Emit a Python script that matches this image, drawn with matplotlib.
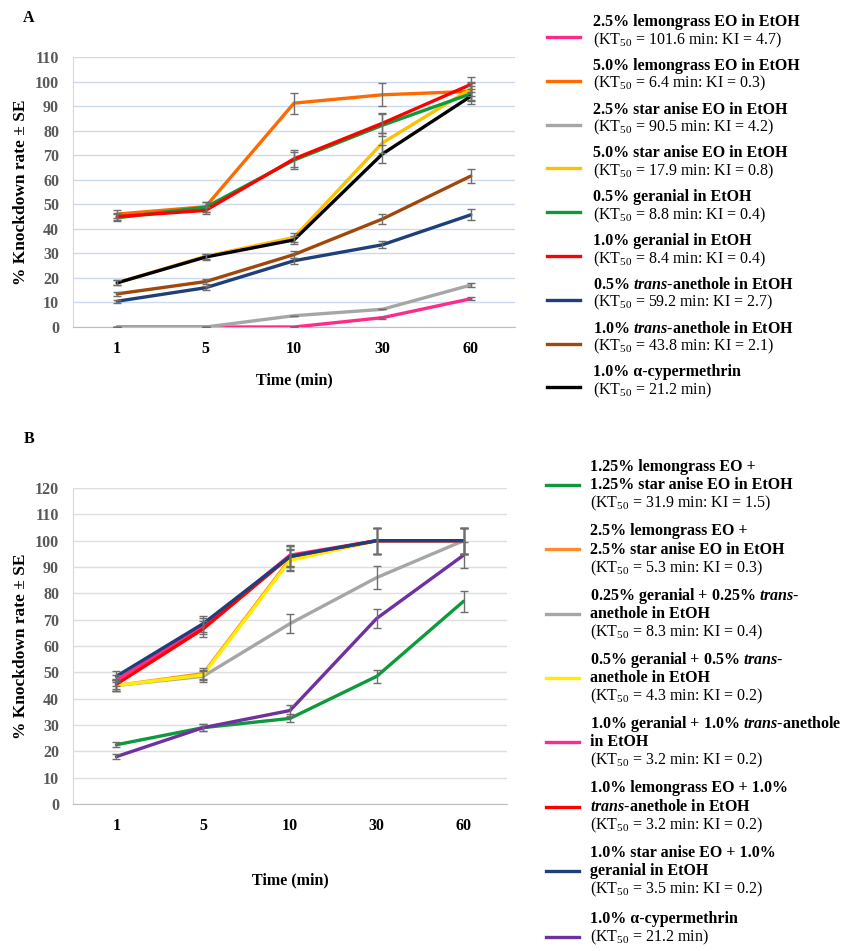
import matplotlib
matplotlib.use("Agg")
import matplotlib.pyplot as plt
from matplotlib.lines import Line2D

plt.rcParams["font.family"] = ["Liberation Serif", "DejaVu Serif"]
plt.rcParams["mathtext.fontset"] = "custom"
plt.rcParams["mathtext.rm"] = "Liberation Serif"
plt.rcParams["mathtext.it"] = "Liberation Serif:italic"
plt.rcParams["mathtext.bf"] = "Liberation Serif:bold"
plt.rcParams["mathtext.bfit"] = "Liberation Serif:italic:bold"

# ---- data ----
times = ["1", "5", "10", "30", "60"]

# panel A: single treatments
a_labels = [
    ["2.5% lemongrass EO in EtOH"],
    ["5.0% lemongrass EO in EtOH"],
    ["2.5% star anise EO in EtOH"],
    ["5.0% star anise EO in EtOH"],
    ["0.5% geranial in EtOH"],
    ["1.0% geranial in EtOH"],
    [r"0.5% $\mathbfit{trans}$-anethole in EtOH"],
    [r"1.0% $\mathbfit{trans}$-anethole in EtOH"],
    ["1.0% α-cypermethrin"],
]
a_kt = [
    r"(KT$_{50}$ = 101.6 min: KI = 4.7)",
    r"(KT$_{50}$ = 6.4 min: KI = 0.3)",
    r"(KT$_{50}$ = 90.5 min: KI = 4.2)",
    r"(KT$_{50}$ = 17.9 min: KI = 0.8)",
    r"(KT$_{50}$ = 8.8 min: KI = 0.4)",
    r"(KT$_{50}$ = 8.4 min: KI = 0.4)",
    r"(KT$_{50}$ = 59.2 min: KI = 2.7)",
    r"(KT$_{50}$ = 43.8 min: KI = 2.1)",
    r"(KT$_{50}$ = 21.2 min)",
]
a_mean = [
    [0, 0, 0, 3.8, 11.5],
    [46, 49, 91.2, 94.6, 96],
    [0, 0, 4.6, 7.2, 17.1],
    [18, 28.8, 36.5, 75, 97],
    [44.5, 48.8, 68, 82.2, 95],
    [45, 47.5, 68.5, 83, 98.8],
    [10.5, 16, 27, 33.5, 45.7],
    [13.5, 18.5, 29.5, 44, 61.5],
    [18, 28.5, 35.5, 70.5, 94],
]
a_se = [
    [0, 0, 0, 0.4, 0.6],
    [1.5, 2, 4.3, 4.7, 3.5],
    [0, 0, 0, 0, 0.8],
    [1, 1, 2, 4, 3],
    [1.5, 2, 3.5, 4.5, 3],
    [1.5, 1.5, 3.5, 4, 3],
    [0.7, 0.8, 1.2, 1.5, 2.2],
    [0.8, 1, 1.3, 2, 3],
    [1, 1.3, 1.5, 3.5, 3],
]

# panel B: combinations
b_labels = [
    ["1.25% lemongrass EO +", "1.25% star anise EO in EtOH"],
    ["2.5% lemongrass EO +", "2.5% star anise EO in EtOH"],
    [r"0.25% geranial + 0.25% $\mathbfit{trans}$-", "anethole in EtOH"],
    [r"0.5% geranial + 0.5% $\mathbfit{trans}$-", "anethole in EtOH"],
    [r"1.0% geranial + 1.0% $\mathbfit{trans}$-anethole", "in EtOH"],
    ["1.0% lemongrass EO + 1.0%", r"$\mathbfit{trans}$-anethole in EtOH"],
    ["1.0% star anise EO + 1.0%", "geranial in EtOH"],
    ["1.0% α-cypermethrin"],
]
b_kt = [
    r"(KT$_{50}$ = 31.9 min: KI = 1.5)",
    r"(KT$_{50}$ = 5.3 min: KI = 0.3)",
    r"(KT$_{50}$ = 8.3 min: KI = 0.4)",
    r"(KT$_{50}$ = 4.3 min: KI = 0.2)",
    r"(KT$_{50}$ = 3.2 min: KI = 0.2)",
    r"(KT$_{50}$ = 3.2 min: KI = 0.2)",
    r"(KT$_{50}$ = 3.5 min: KI = 0.2)",
    r"(KT$_{50}$ = 21.2 min)",
]
b_mean = [
    [22.5, 29, 32.5, 48.5, 77],
    [45, 49.5, 93, 100, 100],
    [45, 48.5, 68.5, 86, 100],
    [45, 49, 92.5, 100, 100],
    [47, 67.5, 94.5, 100, 100],
    [45.5, 66.5, 94, 100, 100],
    [48.5, 68.5, 94, 100, 100],
    [18, 29, 35.5, 70.5, 94.5],
]
b_se = [
    [1, 1.2, 1.5, 2.5, 4],
    [2, 2, 4, 5, 5],
    [2, 2, 3.5, 4.5, 5],
    [2, 2, 4, 5, 5],
    [2, 3, 4, 5, 5],
    [2, 3, 4, 5, 5],
    [2, 3, 4, 5, 5],
    [0.8, 1.2, 2, 3.5, 5],
]

# ---- styles ----
a_colors = ["#ff2a8a", "#ff6a00", "#a6a6a6", "#ffc000", "#0e9a3c",
            "#ff0000", "#1f3f7a", "#a0480c", "#000000"]
b_colors = ["#0e9a3c", "#ff8a30", "#a6a6a6", "#ffee00", "#ff2a8a",
            "#ff0000", "#1f3f7a", "#7030a0"]

W, H = 842, 951
fig = plt.figure(figsize=(W / 100, H / 100), dpi=100)


def fx(px):
    return px / W


def fy(py):
    return 1 - py / H


def panel(rect, means, ses, colors, ymax, gridc, xlabpad):
    l, t, r, b = rect
    ax = fig.add_axes([fx(l), fy(b), fx(r) - fx(l), fy(t) - fy(b)])
    x = list(range(len(times)))
    for m, s, c in zip(means, ses, colors):
        ax.plot(x, m, color=c, lw=2.4, solid_capstyle="round", zorder=3)
        ax.errorbar(x, m, yerr=s, fmt="none", ecolor="#6e6e6e",
                    elinewidth=1, capsize=3, capthick=1, zorder=4)
    ax.set_xlim(-0.5, len(times) - 0.5)
    ax.set_ylim(0, ymax)
    ax.set_yticks(range(0, ymax + 1, 10))
    ax.set_xticks(x)
    ax.set_xticklabels(times)
    ax.yaxis.grid(True, color=gridc, lw=1)
    ax.set_axisbelow(True)
    for sp in ["top", "right"]:
        ax.spines[sp].set_visible(False)
    ax.spines["left"].set_color("#d9d9d9")
    ax.spines["bottom"].set_color("#bfbfbf")
    ax.tick_params(axis="y", length=0, labelsize=11.5, pad=10)
    ax.tick_params(axis="x", length=0, labelsize=11.5, pad=10)
    for lab in ax.get_yticklabels():
        lab.set_fontweight("bold")
        lab.set_color("#595959")
    for lab in ax.get_xticklabels():
        lab.set_fontweight("bold")
        lab.set_color("#000000")
    ax.set_ylabel("% Knockdown rate ± SE", fontsize=12.5, fontweight="bold",
                  labelpad=4)
    ax.set_xlabel("Time (min)", fontsize=11.5, fontweight="bold",
                  labelpad=xlabpad)
    return ax


axA = panel((73, 57, 515, 327), a_mean, a_se, a_colors, 110, "#cdd9ee", 11)
axB = panel((73, 488, 507, 804), b_mean, b_se, b_colors, 120, "#dedede", 28)

fig.text(fx(29), fy(18), "A", fontsize=11.5, fontweight="bold",
         ha="center", va="center")
fig.text(fx(29), fy(439), "B", fontsize=11.5, fontweight="bold",
         ha="center", va="center")


def legend(labels, kts, colors, x_line, x_text, top0, step, lsp, off):
    for i, (lines, kt, c) in enumerate(zip(labels, kts, colors)):
        top = top0 + step * i
        if i == len(labels) - 1 and len(labels) == 8:
            top += 2
        for j, s in enumerate(lines):
            fig.text(fx(x_text), fy(top + j * lsp), s, fontsize=11.5,
                     fontweight="bold", ha="left", va="center")
        fig.text(fx(x_text), fy(top + len(lines) * lsp), kt, fontsize=11.5,
                 ha="left", va="center")
        yl = top + off
        fig.add_artist(Line2D([fx(x_line[0]), fx(x_line[1])], [fy(yl), fy(yl)],
                              color=c, lw=2.4))


legend(a_labels, a_kt, a_colors, (547, 580), 593, 22, 43.8, 18, 15)
legend(b_labels, b_kt, b_colors, (546, 579), 590, 467, 64.3, 18.3, 18)

fig.savefig("out.png", dpi=100)
